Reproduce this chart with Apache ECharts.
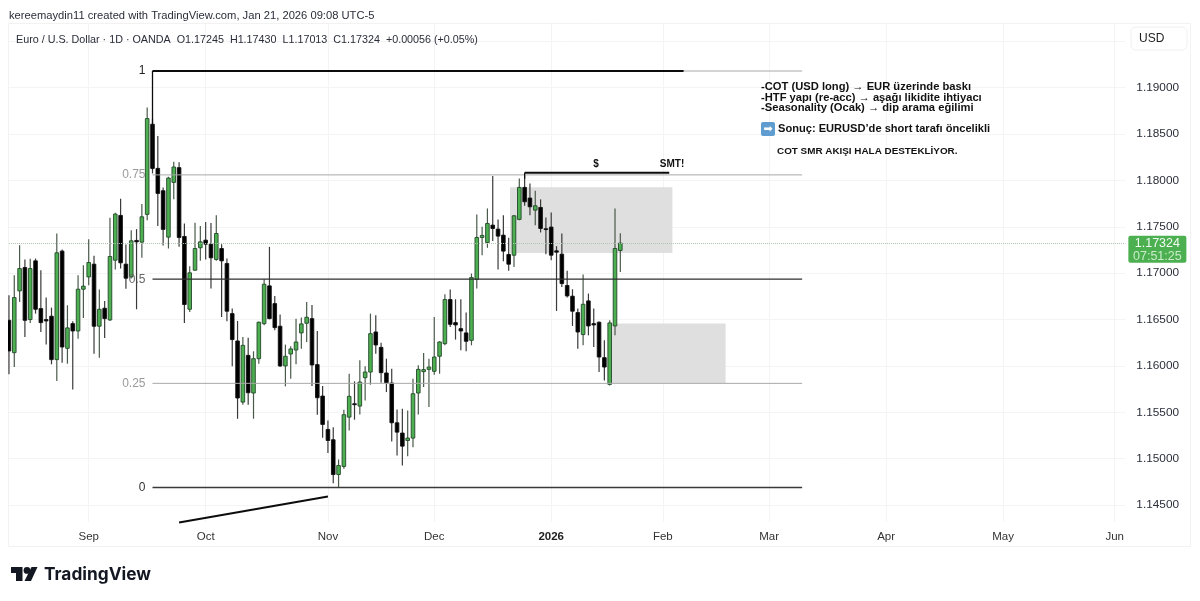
<!DOCTYPE html>
<html><head><meta charset="utf-8">
<style>html,body{margin:0;padding:0;background:#fff}#c{width:1200px;height:601px}</style>
<script src="https://cdn.jsdelivr.net/npm/echarts@6/dist/echarts.min.js"></script>
</head><body><div id="c"></div>
<script>
const opens = [1.16492,1.16143,1.16809,1.17061,1.165,1.17133,1.16618,1.165,1.16536,1.16068,
1.17238,1.1619,1.16456,1.16377,1.16827,1.1696,1.17097,1.16428,1.16622,1.16496,
1.1714,1.17623,1.17097,1.1696,1.17353,1.17335,1.17634,1.18606,1.1813,1.17889,
1.17389,1.17979,1.18138,1.17396,1.16611,1.17032,1.17274,1.17356,1.17313,1.17148,
1.17266,1.17104,1.16564,1.16269,1.1561,1.16114,1.15708,1.16078,1.16456,1.16863,
1.16672,1.16428,1.16,1.16129,1.16172,1.16356,1.1646,1.1651,1.16014,1.15675,
1.15315,1.15204,1.14829,1.14916,1.15448,1.15592,1.15567,1.15873,1.15934,1.16366,
1.162,1.15924,1.15816,1.15387,1.15276,1.15196,1.15222,1.15708,1.15938,1.15963,
1.15942,1.16104,1.1624,1.16716,1.16467,1.16402,1.16356,1.16276,1.16932,1.17385,
1.17331,1.17518,1.17475,1.1741,1.17202,1.17194,1.1758,1.17925,1.1781,1.1768,
1.17709,1.17479,1.17497,1.17241,1.17205,1.16867,1.16752,1.16575,1.16338,1.16701,
1.16456,1.16471,1.16089,1.15801,1.16431,1.17245];
const closes = [1.16161,1.16737,1.1705,1.16492,1.1705,1.16611,1.16467,1.16485,1.16068,1.1722,
1.16204,1.1641,1.16377,1.16827,1.1686,1.17115,1.16428,1.16611,1.1651,1.1718,
1.17637,1.17112,1.16946,1.17349,1.17338,1.17608,1.18667,1.1813,1.1786,1.17472,
1.18026,1.18145,1.17385,1.16662,1.17004,1.17266,1.17338,1.17313,1.17166,1.17428,
1.17133,1.1659,1.16284,1.15654,1.16222,1.15711,1.16078,1.16471,1.16881,1.1651,
1.16413,1.16,1.16104,1.16183,1.16258,1.16453,1.16525,1.1601,1.15657,1.15369,
1.15196,1.14829,1.14926,1.15474,1.15672,1.15582,1.15826,1.15934,1.16348,1.16226,
1.15927,1.15819,1.15387,1.15286,1.15135,1.15222,1.157,1.15963,1.1596,1.15988,
1.16096,1.16258,1.16716,1.16449,1.16442,1.16377,1.16266,1.16953,1.17385,1.17407,
1.17536,1.17482,1.174,1.17238,1.17097,1.17619,1.17925,1.1777,1.17716,1.17727,
1.17482,1.17472,1.17194,1.17227,1.16888,1.16755,1.1659,1.16366,1.16665,1.16431,
1.16442,1.16096,1.15988,1.16464,1.17266,1.17324];
const lows = [1.15909,1.15988,1.1669,1.16312,1.16464,1.16564,1.16366,1.1623,1.16017,1.15837,
1.16035,1.16024,1.15747,1.16294,1.16518,1.1687,1.16132,1.16089,1.16302,1.16485,
1.1704,1.1705,1.16831,1.16942,1.16611,1.17166,1.17572,1.18076,1.17508,1.17299,
1.17266,1.17796,1.17284,1.16464,1.16582,1.17025,1.17133,1.17148,1.16834,1.17133,
1.16528,1.16482,1.15996,1.1543,1.15582,1.15582,1.1543,1.16024,1.16438,1.16503,
1.16384,1.15988,1.1578,1.15862,1.16017,1.16186,1.16258,1.15783,1.15474,1.15225,
1.1506,1.14736,1.14692,1.1489,1.15304,1.1542,1.15477,1.15628,1.15798,1.16132,
1.15819,1.15718,1.15186,1.15034,1.14926,1.15027,1.15124,1.15477,1.15772,1.15556,
1.15906,1.15916,1.16222,1.1642,1.16284,1.16168,1.16158,1.16222,1.16834,1.17194,
1.17274,1.17346,1.1704,1.1713,1.17025,1.17068,1.17572,1.17727,1.17626,1.17518,
1.17439,1.17205,1.1714,1.16593,1.16852,1.16737,1.16431,1.16186,1.16222,1.1633,
1.16204,1.15934,1.15844,1.1579,1.1633,1.17013];
const highs = [1.16762,1.16978,1.17302,1.17148,1.17155,1.17158,1.17032,1.16737,1.16629,1.17428,
1.17256,1.16654,1.16482,1.16978,1.17086,1.17367,1.17187,1.16824,1.16701,1.17598,
1.17652,1.17803,1.1731,1.17464,1.17475,1.17745,1.18786,1.18667,1.1848,1.17925,
1.1804,1.18202,1.18195,1.17536,1.17076,1.17544,1.17508,1.17551,1.1754,1.17626,
1.17313,1.17158,1.16618,1.16485,1.16312,1.16305,1.16158,1.16478,1.16935,1.17284,
1.16755,1.16554,1.1623,1.16212,1.1651,1.16521,1.1669,1.16658,1.16377,1.15783,
1.15412,1.1534,1.14991,1.15528,1.15916,1.15834,1.1606,1.15996,1.16564,1.16546,
1.16251,1.16078,1.1597,1.15531,1.15538,1.1552,1.15862,1.16006,1.1614,1.16078,
1.16528,1.16266,1.16773,1.16824,1.16719,1.16719,1.16575,1.16996,1.17634,1.175,
1.17698,1.18048,1.1758,1.17626,1.17382,1.17626,1.18022,1.18058,1.17968,1.17889,
1.17796,1.17601,1.17655,1.17292,1.17428,1.17025,1.16827,1.16618,1.16986,1.1678,
1.16618,1.16478,1.16276,1.16492,1.17698,1.1743];
const slotCount = 211;
const monthTicks = {15:'Sep',37:'Oct',60:'Nov',80:'Dec',102:'2026',123:'Feb',143:'Mar',165:'Apr',187:'May',208:'Jun'};
const priceLabels = [1.145,1.15,1.155,1.16,1.165,1.17,1.175,1.18,1.185,1.19];
const priceTicks = priceLabels.concat([1.195]);
const lastPrice = 1.17324;
const fibNames = ['1','0.75','0.5','0.25','0'];
const fibPrices = [1.1918,1.1806,1.16935,1.15812,1.14689];
const fibColors = ['#aaaaaa','#a8a8a8','#2e2e2e','#a8a8a8','#3a3a3a'];
const fibLabelColors = ['#222222','#9a9a9a','#666666','#9a9a9a','#333333'];
const fibFrom = 27, fibTo = 149.2;
const boxes = [[94.25,1.17926,124.8,1.17219],[113,1.16457,134.8,1.15815]];
const thickLines = [
 [[27,1.1918],[126.9,1.1918]],
 [[97,1.18083],[124.2,1.18083]],
 [[32,1.14311],[60,1.14592]]
];
const thinLines = [
 [[27,1.1918],[27,1.1812]],
 [[97,1.18083],[97,1.1802]]
];
const notes = ['-COT (USD long) → EUR üzerinde baskı','-HTF yapı (re-acc) → aşağı likidite ihtiyacı','-Seasonality (Ocak) → dip arama eğilimi'];

const cats = Array.from({length:slotCount},(_,i)=>String(i));
const candles = opens.map((o,i)=>[i,o,closes[i],lows[i],highs[i]]);
const font = '"Liberation Sans", Arial, sans-serif';
const bold = '"Liberation Sans", Arial, sans-serif';
function drawCandle(params,api){
 const i=api.value(0),o=api.value(1),c=api.value(2),l=api.value(3),h=api.value(4);
 const up=c>=o;
 const x=api.coord([i,o])[0];
 const yo=api.coord([i,o])[1],yc=api.coord([i,c])[1],yl=api.coord([i,l])[1],yh=api.coord([i,h])[1];
 const top=Math.min(yo,yc),bot=Math.max(yo,yc);
 const wick=up?'#4a5a4a':'#3a3a3a';
 return {type:'group',children:[
  {type:'line',shape:{x1:x,y1:yh,x2:x,y2:yl},style:{stroke:wick,lineWidth:1.2}},
  {type:'rect',shape:{x:x-1.8,y:top,width:3.6,height:Math.max(bot-top,0.8)},style:{fill:up?'#4caf50':'#000000',stroke:up?'#24482a':'#111111',lineWidth:0.9}}
 ]};
}
const series = [];
series.push({type:'line',xAxisIndex:1,yAxisIndex:0,data:[],symbol:'none',silent:true,z:1,
 markArea:{silent:true,itemStyle:{color:'#dfdfdf'},data:boxes.map(b=>[{xAxis:b[0],yAxis:b[1]},{xAxis:b[2],yAxis:b[3]}])}});
series.push({type:'custom',xAxisIndex:0,yAxisIndex:0,data:candles,clip:true,z:2,silent:true,renderItem:drawCandle,encode:{x:0,y:[1,2,3,4]},
 markLine:{silent:true,symbol:'none',animation:false,z:4,precision:5,
  lineStyle:{type:'dotted',color:'#b3c2b3',width:1},
  label:{position:'end',distance:3,offset:[0,6],formatter:'{a|1.17324}\n{b|07:51:25}',backgroundColor:'#4caf50',borderRadius:2,padding:[1,6,0,6],
   rich:{a:{color:'#f2fbf2',fontSize:12.5,fontFamily:font,lineHeight:13,width:46,align:'center'},b:{color:'#c9eccb',fontSize:12.5,fontFamily:font,lineHeight:13,width:46,align:'center'}}},
  data:[{yAxis:lastPrice}]}});
fibPrices.forEach((p,i)=>{
 series.push({type:'line',xAxisIndex:1,yAxisIndex:0,silent:true,z:3,symbol:'circle',symbolSize:0.01,showSymbol:true,animation:false,
  lineStyle:{color:fibColors[i],width:i===2||i===4?1.3:1},itemStyle:{color:fibColors[i]},
  data:[{value:[fibFrom,p],label:{show:true,position:'left',distance:7,formatter:fibNames[i],color:fibLabelColors[i],fontSize:12,fontFamily:font}},{value:[fibTo,p],label:{show:false}}]});
});
thickLines.forEach(l=>{
 series.push({type:'line',xAxisIndex:1,yAxisIndex:0,silent:true,z:3,symbol:'none',animation:false,clip:false,lineStyle:{color:'#0c0c0c',width:2},data:l});
});
thinLines.forEach(l=>{
 series.push({type:'line',xAxisIndex:1,yAxisIndex:0,silent:true,z:3,symbol:'none',animation:false,clip:false,lineStyle:{color:'#0c0c0c',width:1.3},data:l});
});
function txt(x,y,t,size,color,weight,ff,align){return {type:'text',x,y,silent:true,z:10,style:{text:t,fontSize:size,fill:color,fontWeight:weight||'normal',fontFamily:ff||font,verticalAlign:'middle',align:align||'left'}};}
const graphics = [
 {type:'rect',silent:true,z:-1,shape:{x:8.5,y:23.5,width:1182,height:523},style:{fill:'none',stroke:'#f2f2f2',lineWidth:1}},
 {type:'rect',silent:true,z:9,shape:{x:1131,y:27,width:56,height:23,r:5},style:{fill:'#fff',stroke:'#f0f0f0',lineWidth:1}},
 txt(1139,39,'USD',12,'#222'),
 txt(9,15.5,'kereemaydin11 created with TradingView.com, Jan 21, 2026 09:08 UTC-5',11.2,'#2a2e39'),
 txt(16,40,'Euro / U.S. Dollar · 1D · OANDA  O1.17245  H1.17430  L1.17013  C1.17324  +0.00056 (+0.05%)',10.75,'#2a2e39'),
 txt(761,87,notes[0],11.2,'#111','bold',bold),
 txt(761,97.5,notes[1],11.2,'#111','bold',bold),
 txt(761,108,notes[2],11.2,'#111','bold',bold),
 {type:'rect',silent:true,z:9,shape:{x:761,y:122,width:14,height:14,r:2},style:{fill:'#5f9ccf'}},
 txt(768,129,'➡',11,'#ffffff','normal','"DejaVu Sans"','center'),
 txt(778,129,'Sonuç: EURUSD’de short tarafı öncelikli',11.1,'#111','bold',bold),
 txt(777,151,'COT SMR AKIŞI HALA DESTEKLİYOR.',9.9,'#111','bold',bold),
 txt(596,164.5,'$',10,'#111','bold',bold,'center'),
 txt(672,164.5,'SMT!',10,'#111','bold',bold,'center'),
 {type:'polygon',silent:true,z:10,shape:{points:[[11,567],[22.5,567],[22.5,581],[16,581],[16,573],[11,573]]},style:{fill:'#131722'}},
 {type:'circle',silent:true,z:10,shape:{cx:27,cy:570.4,r:3.4},style:{fill:'#131722'}},
 {type:'polygon',silent:true,z:10,shape:{points:[[31.5,567],[37.5,567],[31,581],[24.5,581]]},style:{fill:'#131722'}},
 txt(44,574.5,'TradingView',17.3,'#131722','bold','"Inter", "Liberation Sans", sans-serif')
];
const chart = echarts.init(document.getElementById('c'),null,{renderer:'canvas'});
chart.setOption({
 animation:false,
 backgroundColor:'#ffffff',
 grid:{left:8.96,top:24,width:1116.4,height:498,containLabel:false},
 xAxis:[
  {type:'category',data:cats,boundaryGap:false,axisLine:{show:false},axisTick:{show:false},
   splitLine:{show:true,interval:(i)=>monthTicks[i]!==undefined,lineStyle:{color:'#f4f4f4',width:1}},
   axisLabel:{show:true,interval:(i)=>monthTicks[i]!==undefined,margin:9,hideOverlap:false,color:'#333',fontSize:11.5,fontFamily:font,
    formatter:(v)=>monthTicks[v]==='2026'?'{b|2026}':(monthTicks[v]||''),rich:{b:{fontWeight:'bold',fontSize:11.5,color:'#222',fontFamily:font}}}},
  {type:'value',min:0,max:slotCount-1,show:false,splitLine:{show:false}}
 ],
 yAxis:{type:'value',position:'right',min:1.14317,max:1.19687,scale:true,
  axisLine:{show:false},axisTick:{show:false,customValues:priceTicks},
  splitLine:{show:true,lineStyle:{color:'#f4f4f4',width:1}},
  axisLabel:{customValues:priceLabels,margin:11,color:'#2a2e39',fontSize:11.8,fontFamily:font,formatter:(v)=>v.toFixed(5)}},
 series,
 graphic:graphics
});
</script></body></html>
